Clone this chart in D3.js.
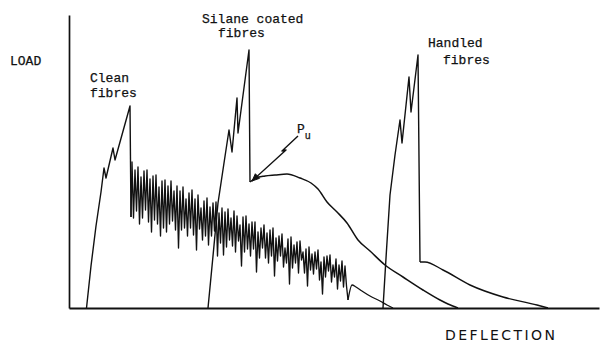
<!DOCTYPE html>
<html><head><meta charset="utf-8">
<script src="https://cdn.jsdelivr.net/npm/d3@7"></script>
<style>
html,body{margin:0;padding:0;background:#fff;}
svg{display:block;}
.lab{font-family:"Liberation Mono","DejaVu Sans Mono",monospace;font-size:13px;fill:#111;stroke:#111;stroke-width:0.25px;}
.axlab{font-family:"DejaVu Sans",sans-serif;font-size:14px;letter-spacing:2.4px;fill:#111;}
</style></head>
<body>
<script>
// Arbitrary load / deflection units
const cleanRise = [[17.5,0],[22,42],[27,82],[32,116],[35,140],[37,130],[44,160],[46,148],[61,202],[62,91]];
const cleanNoise = [[62,91],[63,146],[64.5,90],[66,138],[67.5,97],[69,141],[70.5,84],[72,131],[73.5,90],[75,137],[76.5,98],[78,138],[79.5,86],[81,129],[82.5,76],[84,132],[85.5,88],[87,133],[88.5,84],[90,121],[91.5,72],[93,127],[94.5,80],[96,128],[97.5,76],[99,122],[100.5,84],[102,127],[103.5,87],[105,117],[106.5,78],[108,122],[109.5,60],[111,117],[112.5,78],[114,121],[115.5,80],[117,109],[118.5,72],[120,115],[121.5,80],[123,118],[124.5,73],[126,109],[127.5,58],[129,113],[130.5,79],[132,100],[133.5,68],[135,107],[136.5,72],[138,110],[139.5,63],[141,101],[142.5,72],[144,105],[145.5,77],[147,106],[148.5,52],[150,95],[151.5,65],[153,100],[154.5,53],[156,96],[157.5,61],[159,99],[160.5,68],[162,90],[163.5,62],[165,97],[166.5,56],[168,92],[169.5,67],[171,83],[172.5,42],[174,91],[175.5,56],[177,92],[178.5,59],[180,84],[181.5,52],[183,86],[184.5,59],[186,86],[187.5,36],[189,76],[190.5,50],[192,80],[193.5,60],[195,83],[196.5,50],[198,75],[199.5,45],[201,78],[202.5,52],[204,80],[205.5,32],[207,70],[208.5,47],[210,72],[211.5,52],[213,74],[214.5,41],[216,60],[217.5,45],[219,69],[220.5,24],[222,71],[223.5,40],[225,63],[226.5,45],[228,66],[229.5,35],[231,67],[232.5,48],[234,56],[235.5,35],[237,59],[238.5,22],[240,61],[241.5,38],[243,54],[244.5,34],[246,56],[247.5,39],[249,58],[250.5,28],[252,46],[253.5,14],[255,51],[256.5,31],[258,52],[259.5,37],[261,53],[262.5,26],[264,43],[265.5,31],[267,49],[268.5,19],[270,43],[271.5,27],[273,47],[274.5,21],[276,42],[277.5,22],[279,8]];
const cleanTail = [[279,8],[283,23],[287,21],[293,17],[301,12],[311,7],[318,3],[324,0]];

const silaneRise = [[139,0],[144,52],[149,105],[155,145],[160,178],[163,156],[168,210],[169,175],[180,258],[181,126]];
const silaneTail = [[181,126],[187,130],[196,132],[206,133],[218,134],[231,130],[242,125],[249,119],[258,106],[268,96],[278,85],[289,68],[301,57],[316,43],[334,31],[354,18],[371,8],[379,4],[389,0]];

const handledRise = [[314,0],[317.5,58],[321,113],[326,153],[331,188],[333,165],[340,231],[342,196],[349,253],[351,46]];
const handledTail = [[351,46],[356,46],[374,38],[401,23],[434,11],[468,3],[479,0]];

const puArrow = [[229,172],[213,157],[217,158],[183,127]];

const labels = [
  {t:"LOAD", x:-59, y:243, cls:"lab"},
  {t:"Clean", x:21, y:226, cls:"lab"},
  {t:"fibres", x:21, y:211, cls:"lab"},
  {t:"Silane coated", x:133, y:285, cls:"lab"},
  {t:"fibres", x:149, y:271, cls:"lab"},
  {t:"Handled", x:359, y:261, cls:"lab"},
  {t:"fibres", x:374, y:244, cls:"lab"}
];
const xTitle = "DEFLECTION";

const W = 606, H = 343;
const svg = d3.select("body").append("svg").attr("width", W).attr("height", H);
svg.append("rect").attr("width", W).attr("height", H).attr("fill", "#fff");

const x = d3.scaleLinear().domain([0, 530]).range([69, 599]);
const y = d3.scaleLinear().domain([0, 293]).range([308, 15]);

// axes
const gx = svg.append("g").attr("transform", `translate(0,${y(0)})`)
  .call(d3.axisBottom(x).tickValues([]).tickSizeOuter(0));
gx.select(".domain").attr("stroke", "#111").attr("stroke-width", 2.2);
const gy = svg.append("g").attr("transform", `translate(${x(0)},0)`)
  .call(d3.axisLeft(y).tickValues([]).tickSizeOuter(0));
gy.select(".domain").attr("stroke", "#111").attr("stroke-width", 1.7);

const lin = d3.line().x(d => x(d[0])).y(d => y(d[1])).curve(d3.curveLinear);
const smooth = d3.line().x(d => x(d[0])).y(d => y(d[1])).curve(d3.curveMonotoneX);

function draw(data, gen, w) {
  svg.append("path").attr("d", gen(data)).attr("fill", "none")
    .attr("stroke", "#111").attr("stroke-width", w).attr("stroke-linejoin", "round");
}
draw(cleanRise, lin, 1.4);
draw(cleanNoise, lin, 1.35);
draw(cleanTail, smooth, 1.3);
draw(silaneRise, lin, 1.4);
draw(silaneTail, smooth, 1.5);
draw(handledRise, lin, 1.4);
draw(handledTail, smooth, 1.4);

// Pu arrow
draw(puArrow, lin, 1.4);
const tip = puArrow[puArrow.length - 1], prev = puArrow[puArrow.length - 2];
const tx = x(tip[0]), ty = y(tip[1]);
const ang = Math.atan2(y(prev[1]) - ty, x(prev[0]) - tx);
const hl = 8, ha = 0.4;
svg.append("path")
  .attr("d", `M${tx + hl*Math.cos(ang+ha)},${ty + hl*Math.sin(ang+ha)}L${tx},${ty}L${tx + hl*Math.cos(ang-ha)},${ty + hl*Math.sin(ang-ha)}Z`)
  .attr("fill", "#111").attr("stroke", "#111").attr("stroke-width", 1);

// labels
svg.selectAll("text.lab").data(labels).join("text")
  .attr("class", d => d.cls).attr("x", d => x(d.x)).attr("y", d => y(d.y)).text(d => d.t);

const pu = svg.append("text").attr("class", "lab").attr("x", x(228)).attr("y", y(175));
pu.append("tspan").text("P");
pu.append("tspan").attr("dy", 6).attr("font-size", 10).text("u");

svg.append("text").attr("class", "axlab").attr("x", x(376)).attr("y", y(-32)).text(xTitle);
</script>
</body></html>
